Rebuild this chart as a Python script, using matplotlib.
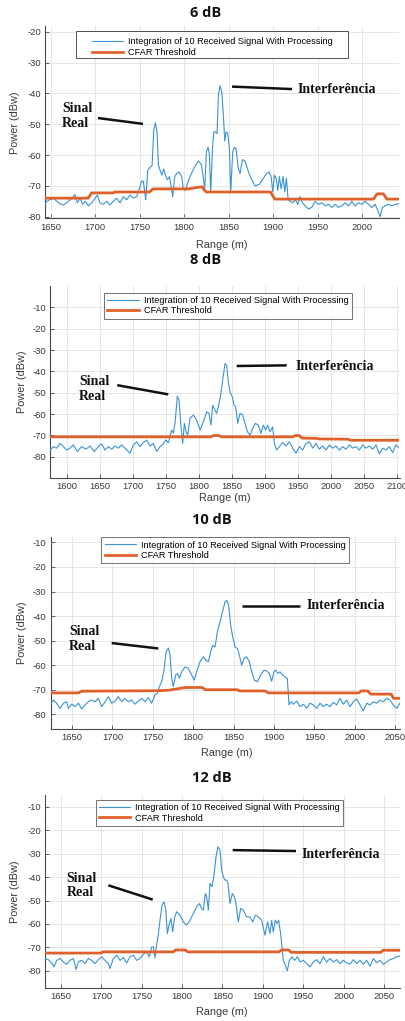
import matplotlib
matplotlib.use('Agg')
import matplotlib.pyplot as plt
from matplotlib.patches import Rectangle

plt.rcParams['font.family'] = ['Liberation Sans', 'DejaVu Sans']
plt.rcParams['axes.unicode_minus'] = False

W, H = 406, 1021
fig = plt.figure(figsize=(W / 100, H / 100), dpi=100)

BLUE = '#3a93d3'
ORANGE = '#e0602a'
AX_COL = '#4a4a4a'

# ---------------- data ----------------
titles = ['6 dB', '8 dB', '10 dB', '12 dB']
signal_label = 'Integration of 10 Received Signal With Processing'
cfar_label = 'CFAR Threshold'

signal_6db = [
    (1643.5, -76), (1645.4, -75), (1649.1, -74.5), (1652.9, -74), (1656.6, -75), (1660.4, -75.8),
    (1664.1, -76.2), (1667.9, -75.5), (1671.6, -74.5), (1675.4, -73.5), (1677.2, -72.8), (1679.9, -75.5),
    (1682.9, -74), (1685.9, -76), (1688.9, -75), (1692.3, -76.5), (1696.0, -75.5), (1699.8, -74),
    (1702.4, -73), (1705.4, -75.5), (1709.1, -76), (1712.9, -75), (1716.6, -76.2), (1720.4, -75),
    (1724.1, -74), (1727.9, -75.5), (1731.6, -73.5), (1735.4, -74.5), (1739.1, -73), (1742.9, -74),
    (1746.6, -73.5), (1749.6, -71), (1751.9, -68.5), (1754.1, -68.5), (1756.8, -74.5), (1759.0, -65),
    (1761.6, -64), (1763.9, -63.5), (1765.8, -52), (1767.6, -49.5), (1769.5, -52.5), (1771.0, -63),
    (1772.9, -65), (1775.1, -66.5), (1777.0, -64.5), (1778.9, -66.5), (1781.1, -68), (1783.4, -67),
    (1785.3, -70), (1787.1, -73.5), (1789.4, -67), (1791.6, -66), (1794.3, -65.5), (1797.2, -67),
    (1799.1, -71), (1801.4, -71.5), (1804.0, -69), (1807.4, -66.5), (1811.5, -64), (1816.0, -62),
    (1819.4, -63), (1821.3, -67), (1823.1, -71), (1825.0, -59), (1826.9, -57.5), (1828.4, -60),
    (1829.9, -72), (1831.8, -58), (1833.3, -52.5), (1835.1, -52.5), (1837.0, -53), (1838.5, -40.5),
    (1840.4, -37.5), (1842.3, -39.5), (1844.1, -47), (1845.6, -55.5), (1847.1, -52.5), (1849.0, -53),
    (1850.9, -58), (1852.4, -72), (1854.6, -59), (1856.5, -57.5), (1858.4, -58), (1860.6, -64),
    (1862.9, -66), (1865.5, -61.5), (1868.5, -62), (1872.3, -65.5), (1876.0, -68), (1879.8, -70),
    (1884.6, -69.5), (1889.1, -67.5), (1892.9, -66), (1895.5, -65.5), (1897.8, -67), (1899.6, -72),
    (1901.5, -66.5), (1903.4, -67.5), (1905.3, -71.5), (1907.1, -67), (1909.0, -71), (1911.3, -67),
    (1913.1, -72), (1915.0, -67.5), (1916.9, -74.5), (1919.1, -75), (1922.1, -75.5), (1925.1, -74.5),
    (1927.8, -76), (1930.4, -73.5), (1933.0, -75.5), (1936.0, -76.5), (1939.8, -77.5), (1943.5, -77),
    (1947.3, -75), (1951.0, -76), (1954.8, -75.5), (1958.5, -76.5), (1962.3, -76), (1966.0, -77),
    (1969.8, -76), (1973.5, -77), (1977.3, -76.5), (1981.0, -75.5), (1984.8, -76.5), (1988.5, -75),
    (1992.3, -76.5), (1996.0, -75.5), (1999.8, -76), (2003.5, -75), (2007.3, -76), (2011.0, -77),
    (2014.8, -76), (2017.8, -78), (2020.4, -80), (2023.0, -77), (2026.0, -76.5), (2029.8, -76),
    (2033.5, -76.5), (2037.3, -76), (2041.6, -75.8),
]
cfar_6db = [
    (1643.5, -74), (1692, -74), (1696, -72.3), (1720, -72.3), (1722, -72), (1761, -72),
    (1765, -71), (1805, -71), (1815, -70.5), (1820, -70.3), (1823, -71.5), (1825, -72),
    (1897, -72), (1902, -74.3), (2013, -74.3), (2017, -72.6), (2024, -72.6), (2028, -74.3),
    (2041.6, -74.3),
]

signal_8db = [
    (1574.0, -76.9), (1579.1, -75.3), (1584.1, -76), (1589.2, -73.8), (1594.2, -75.3), (1599.3, -76.9),
    (1604.3, -76), (1609.4, -74.5), (1615.5, -77.6), (1622.0, -75.3), (1628.6, -76.5), (1634.7, -75),
    (1641.2, -77.6), (1647.3, -75.3), (1652.4, -74), (1657.4, -76.9), (1662.5, -75.3), (1667.5, -76.5),
    (1672.6, -75), (1677.6, -76), (1682.7, -74.5), (1689.3, -76.5), (1695.3, -78.4), (1700.4, -74.5),
    (1705.4, -73), (1710.5, -75.3), (1715.5, -73.4), (1720.6, -72.2), (1725.7, -75), (1730.7, -73.8),
    (1735.8, -77.6), (1740.8, -75.3), (1745.9, -74), (1749.4, -72.2), (1753.5, -73.4), (1756.0, -70.6),
    (1758.5, -67.5), (1761.0, -69), (1763.6, -64.4), (1767.1, -51.7), (1769.6, -53.5), (1772.2, -64.4),
    (1775.2, -73.8), (1777.7, -64.4), (1780.2, -68.3), (1782.8, -69.9), (1786.3, -62), (1791.4, -60.5),
    (1796.4, -62.9), (1801.5, -67.5), (1806.5, -63.7), (1811.6, -59), (1815.1, -59.7), (1818.2, -65.2),
    (1820.7, -55.9), (1824.2, -58.2), (1826.8, -59.7), (1829.3, -56.6), (1832.8, -51.2), (1835.8, -44.2),
    (1839.4, -36.4), (1841.9, -37.2), (1844.4, -45), (1847.0, -49.7), (1850.5, -52), (1853.0, -55.9),
    (1855.6, -56.6), (1858.6, -64.4), (1862.1, -59.7), (1866.2, -60.5), (1869.7, -64.4), (1873.3, -68.3),
    (1877.3, -69.9), (1881.3, -66.8), (1885.4, -64.4), (1889.9, -65.2), (1894.0, -69.1), (1897.5, -65.2),
    (1901.1, -67.5), (1904.1, -65.2), (1907.6, -68.3), (1911.7, -66), (1914.2, -73.8), (1917.7, -76.9),
    (1921.8, -75.3), (1926.8, -73.4), (1931.9, -75), (1936.9, -73), (1942.0, -76), (1947.1, -78.4),
    (1952.1, -75.3), (1957.2, -76.9), (1962.2, -73.8), (1967.3, -73), (1972.3, -76), (1977.4, -73.8),
    (1982.4, -76.5), (1987.5, -75), (1992.6, -76.9), (1997.6, -74.5), (2002.7, -76), (2007.7, -75),
    (2012.8, -76.9), (2017.8, -75.3), (2022.9, -76.5), (2027.9, -74.5), (2033.0, -76), (2038.0, -75.3),
    (2043.1, -76.9), (2048.2, -74.5), (2053.2, -76), (2058.3, -75), (2063.3, -76.5), (2068.4, -74.5),
    (2073.4, -78.7), (2078.5, -76), (2083.5, -76.9), (2088.6, -75.3), (2093.7, -78.1), (2098.7, -74.5),
    (2103.8, -76),
]
cfar_8db = [
    (1574, -70.7), (1818, -70.7), (1822, -70.1), (1830, -70.1), (1834, -70.7), (1943, -70.7),
    (1946, -70.1), (1952, -70.1), (1956, -71.3), (1978, -71.4), (1982, -71.7), (2026, -71.8),
    (2030, -72.3), (2104, -72.3),
]

signal_10db = [
    (1623.6, -75.9), (1626.9, -74.2), (1631.0, -75.5), (1635.2, -77.6), (1639.3, -75.5), (1643.4, -74.9),
    (1645.5, -77.6), (1649.6, -75.9), (1653.7, -76.9), (1657.8, -75.5), (1662.0, -77.8), (1666.1, -76.2),
    (1670.2, -74.9), (1674.3, -74.2), (1678.5, -74.9), (1682.6, -73.5), (1686.7, -76.9), (1690.9, -74.9),
    (1695.0, -72.8), (1699.1, -75.5), (1703.2, -74.6), (1707.4, -72.8), (1711.5, -74.9), (1715.6, -73.5),
    (1719.7, -74.9), (1723.9, -74.2), (1728.0, -75.9), (1732.1, -74.6), (1736.2, -73.5), (1740.4, -74.9),
    (1744.5, -73.2), (1748.6, -75.5), (1752.7, -72.1), (1755.6, -71.5), (1758.1, -68.8), (1761.0, -66.7),
    (1763.9, -62), (1766.4, -54.6), (1769.2, -53), (1771.3, -55.9), (1773.4, -65.4), (1775.4, -68.8),
    (1778.3, -64), (1780.8, -63.4), (1782.9, -65.4), (1785.7, -62.7), (1789.9, -60.7), (1794.0, -61.3),
    (1798.1, -64), (1801.4, -66.1), (1804.3, -62.7), (1808.4, -58.6), (1812.6, -56.6), (1815.9, -58),
    (1818.8, -58.6), (1821.7, -54.6), (1824.1, -51.9), (1827.0, -52.6), (1829.9, -46.5), (1833.2, -42.4),
    (1836.1, -38.4), (1839.4, -34.3), (1841.5, -33.6), (1844.0, -35.7), (1846.4, -43.8), (1848.9, -48.5),
    (1851.8, -52.6), (1854.7, -53.2), (1857.1, -55.9), (1860.0, -60), (1862.9, -57.3), (1866.2, -56.6),
    (1869.5, -58.6), (1872.4, -62.7), (1875.7, -66.1), (1879.4, -66.7), (1883.5, -64), (1887.7, -62),
    (1891.0, -62.4), (1894.3, -63.4), (1897.2, -66.5), (1900.0, -62.7), (1902.5, -62), (1904.6, -63.4),
    (1907.5, -62.7), (1910.4, -64), (1913.6, -64.7), (1916.5, -65.4), (1918.6, -76.2), (1921.1, -74.9),
    (1924.0, -75.9), (1928.1, -74.6), (1932.2, -76.9), (1936.4, -75.9), (1940.5, -77.6), (1944.6, -75.5),
    (1948.7, -76.2), (1952.9, -77.6), (1957.0, -75.5), (1961.1, -76.9), (1965.2, -75.9), (1969.4, -76.9),
    (1973.5, -75.1), (1977.6, -76.2), (1981.7, -73.5), (1985.9, -75.9), (1990.0, -74.2), (1994.1, -76.9),
    (1998.2, -74.9), (2002.4, -73.8), (2006.5, -76.2), (2010.6, -78.6), (2014.7, -75.5), (2018.9, -76.2),
    (2023.0, -74.9), (2027.1, -75.5), (2031.2, -74.2), (2035.4, -74.9), (2039.5, -73.5), (2043.6, -74.2),
    (2047.7, -76.2), (2051.9, -77.6), (2056.0, -75.5),
]
cfar_10db = [
    (1623.6, -71.3), (1658, -71.3), (1662, -70.6), (1758, -70.4), (1770, -70.2), (1790, -69.1),
    (1811, -69.1), (1815, -70), (1854, -70), (1858, -70.5), (1889, -70.5), (1893, -71.3),
    (2005, -71.3), (2008, -70.5), (2016, -70.5), (2020, -71.8), (2045, -71.8), (2048, -73.5),
    (2056, -73.5),
]

signal_12db = [
    (1630.2, -74.7), (1634.3, -75.2), (1638.5, -76.6), (1641.3, -78.3), (1644.6, -75.5), (1648.8, -74.7),
    (1652.9, -76.2), (1657.0, -77.2), (1661.2, -75.5), (1665.3, -74.7), (1668.6, -79.4), (1671.5, -76.2),
    (1675.6, -75.5), (1679.7, -76.9), (1683.9, -74.7), (1688.0, -75.5), (1692.1, -76.9), (1696.2, -75.2),
    (1700.4, -74), (1704.5, -75.5), (1708.6, -76.9), (1710.7, -79), (1714.8, -74.7), (1719.0, -73.3),
    (1723.1, -75.5), (1727.2, -74.3), (1731.3, -76.6), (1735.5, -74), (1739.6, -73.3), (1743.7, -75.5),
    (1747.8, -74.7), (1752.0, -72.9), (1756.1, -71.9), (1759.4, -74), (1762.3, -69.8), (1764.4, -69.8),
    (1766.4, -74.5), (1767.7, -70.5), (1770.1, -65.5), (1772.6, -58.4), (1775.1, -52), (1777.6, -50.6),
    (1779.6, -53.4), (1781.7, -64.1), (1784.2, -59.8), (1786.2, -57.7), (1788.3, -63.4), (1790.8, -57),
    (1793.2, -54.8), (1797.4, -56.2), (1801.5, -59.1), (1805.6, -60.5), (1809.8, -58.4), (1813.9, -55.5),
    (1818.0, -52.7), (1821.3, -51.3), (1824.2, -53.4), (1826.3, -54.1), (1828.7, -47), (1830.4, -48.4),
    (1832.5, -54.1), (1834.5, -42.7), (1837.0, -44.1), (1839.5, -39.2), (1842.0, -31.3), (1844.4, -27.1),
    (1846.9, -28.5), (1849.0, -37), (1851.0, -39.9), (1853.1, -41.3), (1855.2, -41.3), (1856.8, -42.7),
    (1859.3, -51.3), (1862.2, -47), (1864.7, -48.4), (1866.7, -51.3), (1869.6, -59.1), (1872.5, -53.4),
    (1875.8, -54.1), (1879.9, -57), (1884.1, -57), (1887.4, -59.1), (1890.7, -56.2), (1894.4, -57),
    (1898.5, -58.4), (1902.6, -64.8), (1905.9, -59.1), (1908.8, -64.1), (1910.9, -58.4), (1912.9, -63.4),
    (1915.4, -58.4), (1917.5, -59.8), (1919.5, -58.4), (1922.0, -64.1), (1925.3, -75.5), (1927.8, -77.6),
    (1930.3, -80), (1932.8, -75.5), (1936.1, -74), (1939.4, -75.5), (1942.7, -74), (1946.0, -76.2),
    (1950.1, -75.5), (1954.2, -76.9), (1958.4, -78.3), (1962.5, -76.2), (1966.6, -75.2), (1970.7, -76.9),
    (1974.9, -74), (1979.0, -76.2), (1983.1, -74.7), (1987.2, -76.2), (1991.4, -75.2), (1995.5, -76.9),
    (1999.6, -75.5), (2003.8, -76.6), (2007.9, -77.2), (2012.0, -75.2), (2016.1, -76.9), (2020.3, -75.5),
    (2024.4, -77.2), (2028.5, -75.5), (2032.6, -78), (2036.8, -74.7), (2040.9, -76.6), (2045.0, -75.5),
    (2049.2, -77.2), (2053.3, -76.2), (2057.4, -75.2), (2061.5, -74.7), (2065.7, -74), (2069.8, -73.7),
]
cfar_12db = [
    (1630.2, -72.4), (1699, -72.4), (1702, -71.9), (1789, -71.9), (1792, -71.1), (1804, -71.1),
    (1807, -71.9), (1920, -71.9), (1923, -71.1), (1932, -71.1), (1935, -72.1), (2046, -72.1),
    (2049, -71.2), (2069.8, -71.2),
]

signals = [signal_6db, signal_8db, signal_10db, signal_12db]
cfars = [cfar_6db, cfar_8db, cfar_10db, cfar_12db]

xlims = [(1643.5, 2041.6), (1574, 2104), (1623.6, 2056), (1630.2, 2069.8)]
ylims = [(-80.6, -18.3), (-90, 0), (-86, -7.8), (-87.3, -5)]
xticks = [list(range(1650, 2001, 50)), list(range(1600, 2101, 50)),
          list(range(1650, 2051, 50)), list(range(1650, 2051, 50))]
yticks = [list(range(-80, -19, 10)), list(range(-80, -9, 10)),
          list(range(-80, -9, 10)), list(range(-80, -9, 10))]

# ---------------- layout (pixels) ----------------
axes_px = [(45, 26.5, 399, 218.5), (50, 286, 399.5, 478),
           (50.7, 537, 400, 729), (45, 795, 400, 988)]
title_px = [(206, 13.3), (206, 260), (212, 520), (212, 778.3)]
xlabel_px = [(222, 245), (225, 498.3), (227, 753), (222, 1011.7)]
ylabel_x = [15, 21.7, 21.7, 15]
legend_anchor = [(0.472, 0.962), (0.509, 0.964), (0.499, 0.998), (0.4915, 0.974)]
# wide legend frame of the first panel (pixels: left, top, right, bottom)
legend1_box_px = (76, 31, 348, 58)

# annotation positions in data units: text (x, y), line (x0, y0, x1, y1)
interf_text = [(1928, -38.6), (1947, -37.5), (1940.5, -35.7), (1948.1, -30.2)]
interf_line = [(1853.8, -37.8, 1921.3, -38.6), (1857.1, -37.5, 1933, -37.2),
               (1860, -35.7, 1932.3, -35.7), (1862.6, -28.5, 1941, -28.9)]
sinal_text = [(1662.6, -47.3), (1618, -48.2), (1646.3, -49.4), (1657, -43.6)]
sinal_line = [(1703.1, -48.0, 1753.7, -49.9), (1676, -46.5, 1753.4, -50.8),
              (1699.1, -51.0, 1756.8, -53.2), (1708.6, -43.5, 1763.6, -49.6)]


def fx(px):
    return px / W


def fy(py):
    return 1 - py / H


for i in range(4):
    l, t, r, b = axes_px[i]
    ax = fig.add_axes([fx(l), fy(b), (r - l) / W, (b - t) / H])
    sx = [p[0] for p in signals[i]]
    sy = [p[1] for p in signals[i]]
    cx = [p[0] for p in cfars[i]]
    cy = [p[1] for p in cfars[i]]
    ax.plot(sx, sy, color=BLUE, lw=0.8, label=signal_label, zorder=3)
    ax.plot(cx, cy, color=ORANGE, lw=2.0, label=cfar_label, zorder=4)
    ax.set_xlim(*xlims[i])
    ax.set_ylim(*ylims[i])
    ax.set_xticks(xticks[i])
    ax.set_yticks(yticks[i])
    ax.grid(True, color='#e2e2e2', lw=0.6)
    ax.set_axisbelow(True)
    for s in ['top', 'right']:
        ax.spines[s].set_visible(False)
    for s in ['left', 'bottom']:
        ax.spines[s].set_color(AX_COL)
        ax.spines[s].set_linewidth(0.8)
    ax.tick_params(direction='in', length=3, width=0.6, color=AX_COL,
                   labelsize=6.8, labelcolor='#3a3a3a', pad=3)

    leg = ax.legend(loc='upper center', bbox_to_anchor=legend_anchor[i],
                    fontsize=6.6, frameon=True, fancybox=False, edgecolor='#333333',
                    borderpad=0.35, handlelength=3.4, handletextpad=0.55,
                    labelspacing=0.2 if i == 0 else 0.15, borderaxespad=0)
    leg.get_frame().set_linewidth(0.6)
    leg.set_zorder(6)
    if i == 0:
        leg.get_frame().set_visible(False)
        bl, bt, br, bb = legend1_box_px
        ax.add_patch(Rectangle(((bl - l) / (r - l), (b - bb) / (b - t)),
                               (br - bl) / (r - l), (bb - bt) / (b - t),
                               transform=ax.transAxes, facecolor='white',
                               edgecolor='#333333', lw=0.6, zorder=5.5))

    # annotations
    tx, ty = interf_text[i]
    ax.text(tx, ty, 'Interferência', family='Liberation Serif', fontweight='bold',
            fontsize=10, ha='left', va='center', color='#111111', zorder=5)
    x0, y0, x1, y1 = interf_line[i]
    ax.plot([x0, x1], [y0, y1], color='#111111', lw=1.8, solid_capstyle='butt', zorder=5)
    tx, ty = sinal_text[i]
    ax.text(tx, ty, 'Sinal\nReal', family='Liberation Serif', fontweight='bold',
            fontsize=10, ha='left', va='center', linespacing=1.15, color='#111111', zorder=5)
    x0, y0, x1, y1 = sinal_line[i]
    ax.plot([x0, x1], [y0, y1], color='#111111', lw=1.8, solid_capstyle='butt', zorder=5)

    # titles and axis labels
    px, py = title_px[i]
    fig.text(fx(px), fy(py), titles[i], ha='center', va='center', fontsize=10.5,
             fontweight='bold', family='Open Sans', color='#111111')
    px, py = xlabel_px[i]
    fig.text(fx(px), fy(py), 'Range (m)', ha='center', va='center', fontsize=7.8,
             color='#3a3a3a')
    fig.text(fx(ylabel_x[i]), fy((t + b) / 2), 'Power (dBw)', ha='center', va='center',
             rotation=90, fontsize=7.8, color='#3a3a3a')

fig.savefig('out.png', dpi=100, facecolor='white')
